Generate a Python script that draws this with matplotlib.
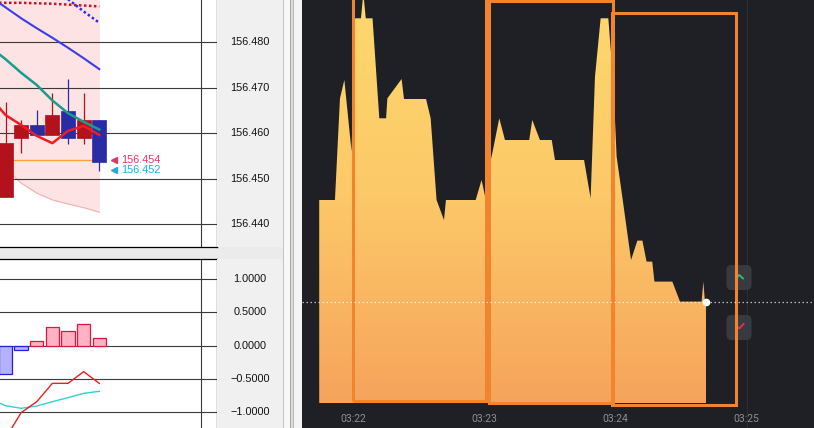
import numpy as np
import matplotlib.pyplot as plt
from matplotlib.patches import Rectangle, FancyBboxPatch, Polygon
from matplotlib.lines import Line2D
from matplotlib.colors import LinearSegmentedColormap
from matplotlib.transforms import Affine2D

W, H = 814, 428

# ---------------- left: 1 minute candles, index 0..6 ----------------
bar_idx = [0, 1, 2, 3, 4, 5, 6]
c_open = [156.4459, 156.4589, 156.4618, 156.4597, 156.4649, 156.4589, 156.4629]
c_high = [156.4669, 156.4629, 156.4650, 156.4688, 156.4719, 156.4688, 156.4629]
c_low = [156.4459, 156.4557, 156.4597, 156.4597, 156.4576, 156.4576, 156.4517]
c_close = [156.4578, 156.4618, 156.4597, 156.4640, 156.4589, 156.4629, 156.4537]

# moving averages / band (index -1..6)
ma_idx = [-1, 0, 1, 2, 3, 4, 5, 6]
ma_red = [156.4680, 156.4640, 156.4618, 156.4594, 156.4578, 156.4605, 156.4616, 156.4596]
ma_teal = [156.4790, 156.4763, 156.4733, 156.4706, 156.4672, 156.4644, 156.4625, 156.4608]
ma_blue = [156.4901, 156.4877, 156.4853, 156.4831, 156.4810, 156.4788, 156.4765, 156.4741]
ma_red_dot = [156.4888, 156.4887, 156.4887, 156.4886, 156.4885, 156.4883, 156.4881, 156.4879]
band_low = [156.4548, 156.4523, 156.4490, 156.4468, 156.4453, 156.4444, 156.4436, 156.4426]
lr_idx = [4, 5, 6]
lr_vals = [156.4895, 156.4868, 156.4843]
last_line = 156.4540
ask_price, bid_price = 156.454, 156.452
price_ticks = [156.440, 156.450, 156.460, 156.470, 156.480, 156.490]

# oscillator panel
hist_vals = [-0.43, -0.065, 0.07, 0.275, 0.215, 0.325, 0.11]
macd_idx = [0, 1, 2, 3, 4, 5, 6]
macd_vals = [-1.39, -1.005, -0.84, -0.565, -0.565, -0.39, -0.565]
sig_idx = [-1, 0, 1, 2, 3, 4, 5, 6]
sig_vals = [-0.80, -0.90, -0.94, -0.905, -0.84, -0.78, -0.715, -0.685]
osc_ticks = [1.0, 0.5, 0.0, -0.5, -1.0]
osc_labels = ['1.0000', '0.5000', '0.0000', '\u22120.5000', '\u22121.0000']

# ---------------- right: area chart (seconds after 03:22) ----------------
area_t = [-15.6, -8.4, -6.1, -4.1, -0.8, 0.8, 3.5, 4.6, 5.7, 8.8, 11.9, 15.0, 15.6,
          22.1, 23.2, 33.3, 35.4, 38.1, 41.5, 42.4, 56.0, 58.7, 60.5, 61.5, 63.6,
          66.8, 69.4, 80.5, 81.9, 85.4, 90.8, 92.3, 105.6, 108.6, 110.6, 113.2,
          116.7, 119.0, 120.5, 123.3, 127.1, 130.0, 132.3, 134.2, 136.8, 137.8,
          146.0, 149.5, 159.4, 160.2, 160.9, 161.4]
area_v = [203.3, 203.3, 305.0, 323.3, 251.7, 385.0, 385.0, 410.0, 385.0, 385.0, 285.0,
          285.0, 305.0, 324.3, 304.3, 304.3, 285.0, 203.3, 183.3, 203.3, 203.3, 223.3,
          205.0, 230.0, 250.0, 285.0, 263.3, 263.3, 283.3, 263.3, 263.3, 243.3, 243.3,
          205.0, 326.7, 385.0, 385.0, 320.0, 246.7, 203.3, 143.3, 162.7, 162.7, 141.7,
          141.7, 121.7, 121.7, 101.7, 101.7, 121.7, 101.7, 101.7]
current_v = 101.7
# highlighted boxes: (start s, end s, bottom, top)
boxes = [(0.0, 60.6, 2.3, 412.0), (62.2, 118.7, 0.0, 402.2), (118.3, 175.0, -1.7, 390.0)]
time_ticks = [0, 60, 120, 180]
time_labels = ['03:22', '03:23', '03:24', '03:25']

fig = plt.figure(figsize=(W / 100, H / 100), dpi=100, facecolor='#ebebeb')
pix = Affine2D().scale(1 / W, -1 / H).translate(0, 1) + fig.transFigure


def box(x0, y0, x1, y1, fc):
    a = fig.add_axes([x0 / W, 1 - y1 / H, (x1 - x0) / W, (y1 - y0) / H])
    a.set_facecolor(fc)
    a.set_xticks([])
    a.set_yticks([])
    for s in a.spines.values():
        s.set_visible(False)
    return a


lab_font = dict(family='Liberation Sans', fontsize=7.8, color='#111111')

# ---- top candle chart ----
ax1 = box(0, 0, 217, 247, 'white')
ax1.set_xlim(-0.352, 13.53)
ax1.set_ylim(156.43494, 156.48932)
ax1.fill_between(ma_idx, band_low, 156.50, color='#fde3e3', lw=0, zorder=1)
ax1.plot(ma_idx, band_low, color='#f2b0b0', lw=0.8, zorder=1.5)
for p in price_ticks:
    ax1.axhline(p, color='#3a3a3a', lw=0.8, zorder=2)
ax1.axvline(12.5, color='#3a3a3a', lw=0.8, zorder=2)
ax1.hlines(last_line, -1, 6, color='#ffa033', lw=0.9, zorder=2.5)
ax1.plot(ma_idx, ma_red_dot, color='#c8141e', lw=1.8, ls=(0, (1, 1)), zorder=3)
ax1.plot(lr_idx, lr_vals, color='#2c2ce0', lw=1.8, ls=(0, (1, 1)), zorder=3)

cols = ['#b3121c' if c >= o else '#2b2ba6' for o, c in zip(c_open, c_close)]
bottoms = [min(o, c) for o, c in zip(c_open, c_close)]
heights = [abs(c - o) for o, c in zip(c_open, c_close)]
ax1.vlines(bar_idx, c_low, c_high, colors=cols, lw=0.9, zorder=4)
ax1.bar(bar_idx, heights, width=0.9, bottom=bottoms, color=cols, edgecolor=cols,
        lw=0.5, zorder=5)

ax1.plot(ma_idx, ma_blue, color='#3d3de6', lw=1.5, zorder=6)
ax1.plot(ma_idx, ma_teal, color='#199c8c', lw=1.8, zorder=6)
ax1.plot(ma_idx, ma_red, color='#ee1c24', lw=1.8, zorder=6)

ax1.plot(6.97, ask_price, marker='<', color='#e8336a', ms=5, zorder=7)
ax1.plot(6.97, bid_price, marker='<', color='#1aaee0', ms=5, zorder=7)
ax1.text(7.43, ask_price + 0.0001, f'{ask_price:.3f}', color='#e8336a', va='center',
         family='Liberation Sans', fontsize=7.8, zorder=7)
ax1.text(7.43, bid_price - 0.0001, f'{bid_price:.3f}', color='#1aaee0', va='center',
         family='Liberation Sans', fontsize=7.8, zorder=7)
for s in ('right', 'bottom'):
    ax1.spines[s].set_visible(True)
    ax1.spines[s].set_color('black')
    ax1.spines[s].set_linewidth(0.9)

axl1 = box(217, 0, 283, 247, '#f0f0f0')
axl1.set_ylim(ax1.get_ylim())
for p in price_ticks:
    axl1.text(0.5, p, f'{p:.3f}', ha='center', va='center',
              transform=axl1.get_yaxis_transform(), **lab_font)

# ---- oscillator ----
ax2 = box(0, 259, 217, 428, 'white')
ax2.set_xlim(ax1.get_xlim())
ax2.set_ylim(-1.235, 1.30)
for v in osc_ticks:
    ax2.axhline(v, color='#3a3a3a', lw=0.8, zorder=1)
ax2.axvline(12.5, color='#3a3a3a', lw=0.8, zorder=1)
hcols = ['#ffb3c3' if v >= 0 else '#b4b2ff' for v in hist_vals]
ecols = ['#e0143c' if v >= 0 else '#2020dc' for v in hist_vals]
ax2.bar(bar_idx, hist_vals, width=0.86, color=hcols, edgecolor=ecols, lw=0.9, zorder=2)
ax2.plot(sig_idx, sig_vals, color='#33d0d6', lw=1.0, zorder=3)
ax2.plot(macd_idx, macd_vals, color='#e82020', lw=1.0, zorder=3)
for s in ('right', 'top'):
    ax2.spines[s].set_visible(True)
    ax2.spines[s].set_color('black')
    ax2.spines[s].set_linewidth(0.9)

axl2 = box(217, 259, 283, 428, '#f0f0f0')
axl2.set_ylim(ax2.get_ylim())
for v, lab in zip(osc_ticks, osc_labels):
    axl2.text(0.5, v, lab, ha='center', va='center',
              transform=axl2.get_yaxis_transform(), **lab_font)

# window strips between the two panels
for x0, x1, c in [(283, 284, '#c4c4c4'), (284, 290, '#f8f8f8'), (290, 291, '#a8a8a8'),
                  (291, 293, '#dcdcdc'), (293, 294, '#b8b8b8'), (294, 302, '#f4f4f4')]:
    fig.add_artist(Rectangle((x0, 0), x1 - x0, H, transform=pix, fc=c, ec='none'))

# ---- right: dark area chart ----
ax3 = box(302, 0, 814, 428, '#1f2026')
ax3.set_xlim(-23.48, 210.83)
ax3.set_ylim(-24.7, 403.3)
ax3.axvline(180, color='#2d2e35', lw=0.8, zorder=1)

t = np.array(area_t)
v = np.array(area_v)
cmap = LinearSegmentedColormap.from_list('area', ['#f6a45c', '#fcc868', '#fdd96e'])
grad = np.linspace(0, 1, 256).reshape(-1, 1)
im = ax3.imshow(grad, extent=[t[0], t[-1], 0, 410], origin='lower', cmap=cmap,
                aspect='auto', zorder=2)
verts = [(t[0], 0)] + list(zip(t, v)) + [(t[-1], 0)]
shape = Polygon(verts, closed=True, fc='none', ec='none')
ax3.add_patch(shape)
im.set_clip_path(shape)

# buttons on the right edge
for cy in (277.5, 327.5):
    ax3.add_artist(FancyBboxPatch((726.5, cy - 12.5), 25, 25, transform=pix,
                                  boxstyle='round,pad=0,rounding_size=5',
                                  fc='#383a42', ec='none', zorder=3))
ax3.add_artist(Line2D([736, 739.3, 743], [278.5, 275, 278.5], transform=pix,
                      color='#2bc27e', lw=1.3, zorder=3.5))
ax3.add_artist(Line2D([736, 739.3, 743.5], [325, 328.5, 324], transform=pix,
                      color='#e8304c', lw=1.3, zorder=3.5))

for t0, t1, b, top in boxes:
    ax3.add_patch(Rectangle((t0, b), t1 - t0, top - b, fill=False, ec='#f0842f',
                            lw=2.2, zorder=4))

ax3.axhline(current_v, color='white', lw=0.9, ls=(0, (1.2, 2.0)), alpha=0.7, zorder=5)
ax3.plot(t[-1], current_v, 'o', color='white', ms=4.5, zorder=6)

ax3.set_xticks(time_ticks, time_labels)
ax3.tick_params(axis='x', length=0, pad=-10, labelcolor='#8d8f96', labelsize=7.5)
for lab in ax3.get_xticklabels():
    lab.set_family('Roboto')

fig.savefig('out.png', dpi=100, facecolor=fig.get_facecolor())
